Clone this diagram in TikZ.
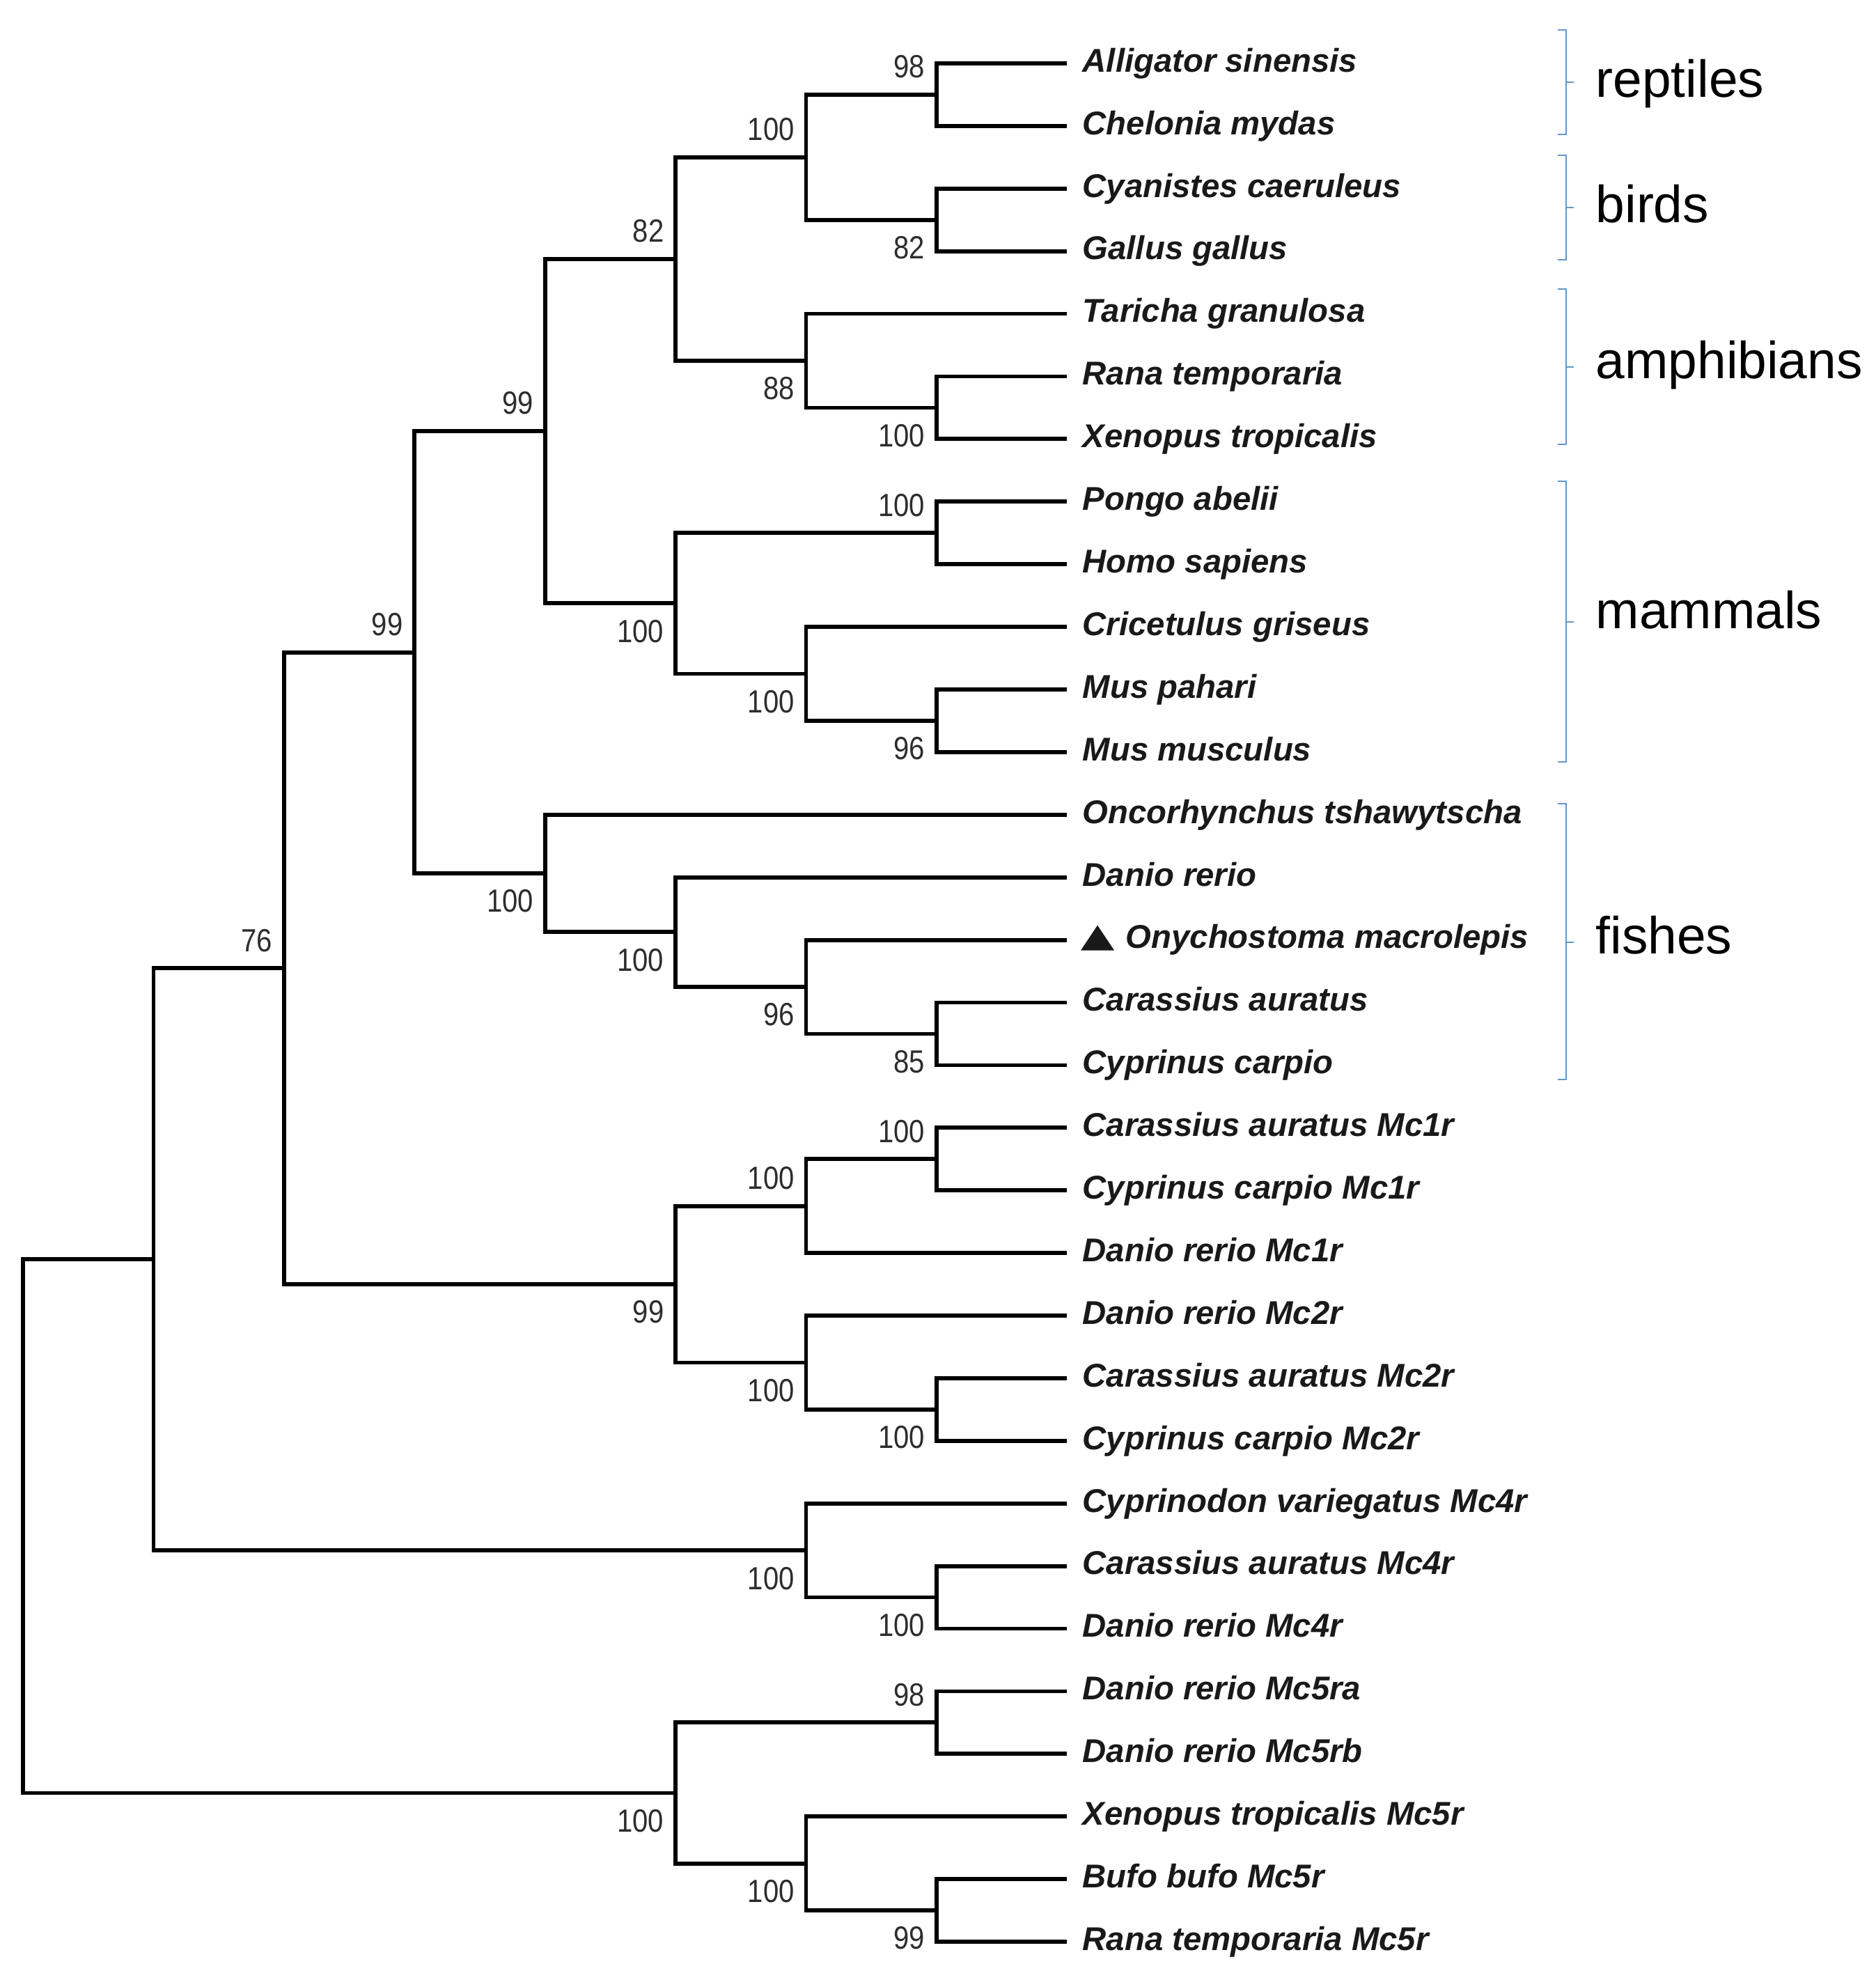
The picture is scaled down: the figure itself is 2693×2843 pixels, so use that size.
\documentclass[tikz,border=0pt]{standalone}
\usepackage{fontspec}
\setmainfont{Liberation Sans}
\newfontfamily\numfont{Liberation Sans}[FakeStretch=0.87]
\definecolor{brkblue}{RGB}{100,150,200}
\definecolor{txtdark}{RGB}{25,25,25}
\definecolor{numgray}{RGB}{45,45,45}
\newcommand\LX[1]{33+187.4*#1}
\newcommand\LY[1]{91+89.9*#1}
\begin{document}
\begin{tikzpicture}[x=0.01cm,y=-0.01cm,
  branch/.style={line width=0.058cm, black, line join=miter, line cap=butt},
  leaflbl/.style={anchor=mid west, inner sep=0pt, text=txtdark, yshift=-0.03cm,
    font=\fontsize{13.45pt}{16pt}\selectfont\bfseries\itshape},
  bsup/.style={anchor=east, inner sep=0pt, xshift=-0.16cm, yshift=0.40cm, text=numgray,
    font=\fontsize{13.1pt}{15pt}\numfont},
  bsdn/.style={anchor=east, inner sep=0pt, xshift=-0.16cm, yshift=-0.40cm, text=numgray,
    font=\fontsize{13.1pt}{15pt}\numfont},
  brk/.style={draw=brkblue, line width=0.8pt},
  grp/.style={anchor=mid west, inner sep=0pt, text=black,
    font=\fontsize{21.3pt}{24pt}\selectfont}]
\useasboundingbox (0,0) rectangle (2693,2843);

% leaves
\foreach \i in {0,...,30}{
  \coordinate (l\i) at (1532,{\LY{\i}});
}
\foreach \i/\t in {0/Alligator sinensis,1/Chelonia mydas,2/Cyanistes caeruleus,3/Gallus gallus,
  4/Taricha granulosa,5/Rana temporaria,6/Xenopus tropicalis,7/Pongo abelii,8/Homo sapiens,
  9/Cricetulus griseus,10/Mus pahari,11/Mus musculus,12/Oncorhynchus tshawytscha,13/Danio rerio,
  15/Carassius auratus,16/Cyprinus carpio,17/Carassius auratus Mc1r,18/Cyprinus carpio Mc1r,
  19/Danio rerio Mc1r,20/Danio rerio Mc2r,21/Carassius auratus Mc2r,22/Cyprinus carpio Mc2r,
  23/Cyprinodon variegatus Mc4r,24/Carassius auratus Mc4r,25/Danio rerio Mc4r,
  26/Danio rerio Mc5ra,27/Danio rerio Mc5rb,28/Xenopus tropicalis Mc5r,29/Bufo bufo Mc5r,
  30/Rana temporaria Mc5r}{
  \node[leaflbl] (t\i) at (1554,{\LY{\i}}) {\t};
}
\node[leaflbl] (t14) at (1616,{\LY{14}}) {Onychostoma macrolepis};
\fill[txtdark] (1552,{\LY{14}+15}) -- (1600,{\LY{14}+15}) -- (1576,{\LY{14}-21}) -- cycle;

% internal nodes
\coordinate (A)  at ({\LX{7}},{\LY{0.5}});
\coordinate (B)  at ({\LX{7}},{\LY{2.5}});
\coordinate (C)  at ({\LX{6}},{\LY{1.5}});
\coordinate (D)  at ({\LX{7}},{\LY{5.5}});
\coordinate (E)  at ({\LX{6}},{\LY{4.75}});
\coordinate (F)  at ({\LX{5}},{\LY{3.125}});
\coordinate (G)  at ({\LX{7}},{\LY{7.5}});
\coordinate (H)  at ({\LX{7}},{\LY{10.5}});
\coordinate (I)  at ({\LX{6}},{\LY{9.75}});
\coordinate (J)  at ({\LX{5}},{\LY{8.625}});
\coordinate (K)  at ({\LX{4}},{\LY{5.875}});
\coordinate (L)  at ({\LX{7}},{\LY{15.5}});
\coordinate (M)  at ({\LX{6}},{\LY{14.75}});
\coordinate (N)  at ({\LX{5}},{\LY{13.875}});
\coordinate (O)  at ({\LX{4}},{\LY{12.9375}});
\coordinate (P)  at ({\LX{3}},{\LY{9.40625}});
\coordinate (Q)  at ({\LX{7}},{\LY{17.5}});
\coordinate (R)  at ({\LX{6}},{\LY{18.25}});
\coordinate (S)  at ({\LX{7}},{\LY{21.5}});
\coordinate (T)  at ({\LX{6}},{\LY{20.75}});
\coordinate (U)  at ({\LX{5}},{\LY{19.5}});
\coordinate (V)  at ({\LX{2}},{\LY{14.453125}});
\coordinate (W)  at ({\LX{7}},{\LY{24.5}});
\coordinate (X)  at ({\LX{6}},{\LY{23.75}});
\coordinate (Y)  at ({\LX{1}},{\LY{19.1015625}});
\coordinate (Z)  at ({\LX{7}},{\LY{26.5}});
\coordinate (AA) at ({\LX{7}},{\LY{29.5}});
\coordinate (AB) at ({\LX{6}},{\LY{28.75}});
\coordinate (AC) at ({\LX{5}},{\LY{27.625}});
\coordinate (RT) at ({\LX{0}},{\LY{23.36328125}});

% branches
\foreach \a/\p/\b in {l0/A/l1, l2/B/l3, A/C/B, l5/D/l6, l4/E/D, C/F/E,
  l7/G/l8, l10/H/l11, l9/I/H, G/J/I, F/K/J,
  l15/L/l16, l14/M/L, l13/N/M, l12/O/N, K/P/O,
  l17/Q/l18, Q/R/l19, l21/S/l22, l20/T/S, R/U/T, P/V/U,
  l24/W/l25, l23/X/W, V/Y/X,
  l26/Z/l27, l29/AA/l30, l28/AB/AA, Z/AC/AB, Y/RT/AC}{
  \draw[branch] (\a) -| (\p) |- (\b);
}

% bootstrap values
\foreach \n/\v in {A/98, C/100, F/82, G/100, K/99, P/99, Q/100, R/100, V/76, Z/98}{
  \node[bsup] at (\n) {\v};
}
\foreach \n/\v in {B/82, D/100, E/88, H/96, I/100, J/100, L/85, M/96, N/100, O/100,
  S/100, T/100, U/99, W/100, X/100, AA/99, AB/100, AC/100}{
  \node[bsdn] at (\n) {\v};
}

% group brackets
\foreach \top/\bot/\mid/\ly/\g in {43/193/118/130/reptiles, 223/373/298/310/birds,
  415/638/527/534/amphibians, 691/1094/893/893/mammals, 1154/1550/1353/1360/fishes}{
  \draw[brk] (2237,\top) -- (2249,\top) -- (2249,\bot) -- (2237,\bot);
  \draw[brk] (2249,\mid) -- (2260,\mid);
  \node[grp] (g\g) at (2291,\ly) {\g};
}
\end{tikzpicture}
\end{document}
